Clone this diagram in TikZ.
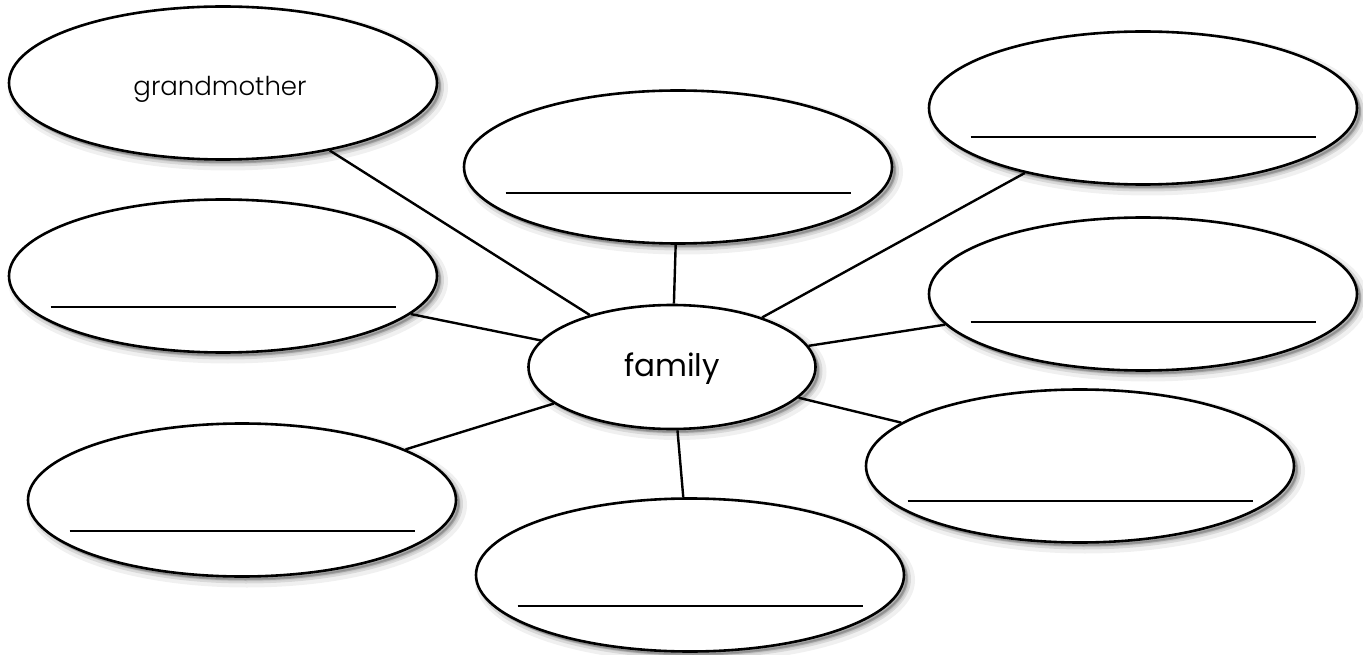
\documentclass[tikz,border=0pt]{standalone}
\usepackage{fontspec}
\setmainfont{Poppins}
\newfontfamily\gmfont{Poppins Light}
\usetikzlibrary{shapes.geometric,calc}
\begin{document}
\begin{tikzpicture}[x=1pt,y=-1pt,
  softshadow/.style={
    preaction={fill=black, fill opacity=0.06, draw=black, draw opacity=0.06, line width=12pt, transform canvas={shift={(5pt,-5pt)}}},
    preaction={fill=black, fill opacity=0.10, draw=black, draw opacity=0.10, line width=6pt, transform canvas={shift={(4pt,-4pt)}}},
    preaction={fill=black, fill opacity=0.12, draw=black, draw opacity=0.12, line width=2pt, transform canvas={shift={(3pt,-3pt)}}}},
  bubble/.style={ellipse, draw=black, line width=2.6pt, fill=white, minimum width=428pt, minimum height=153pt, inner sep=0pt, softshadow},
  hub/.style={bubble, minimum width=287pt, minimum height=124pt},
  link/.style={line width=2.4pt},
  writeline/.style={line width=1.6pt},
  bigtext/.style={font=\fontsize{31}{31}\selectfont},
  smalltext/.style={font=\gmfont\fontsize{26}{26}\selectfont}]
\useasboundingbox (0,0) rectangle (1363,655);
% outer bubbles
\node[bubble] (gm) at (223,83) {};
\node[bubble] (tm) at (678,167) {};
\node[bubble] (tr) at (1143,108) {};
\node[bubble] (lm) at (223,276) {};
\node[bubble] (rm) at (1143,294) {};
\node[bubble] (bl) at (242,500) {};
\node[bubble] (br) at (1080,466) {};
\node[bubble] (bm) at (690,575) {};
% hub
\node[hub] (fam) at (672,367) {};
\node[bigtext] (famtext) at ($(fam)+(0,2)$) {family};
\node[smalltext] (gmtext) at ($(gm)+(-3,6)$) {grandmother};
% writing lines
\foreach \n/\dy in {tm/26, tr/29, lm/31, rm/28, bl/31, br/35, bm/31}{
  \draw[writeline] ($(\n.center)+(-172.5,\dy)$) -- ++(345,0);
}
% connectors
\foreach \n in {gm,tm,tr,lm,rm,bl,br,bm}{
  \draw[link] (fam) -- (\n);
}
\end{tikzpicture}
\end{document}
